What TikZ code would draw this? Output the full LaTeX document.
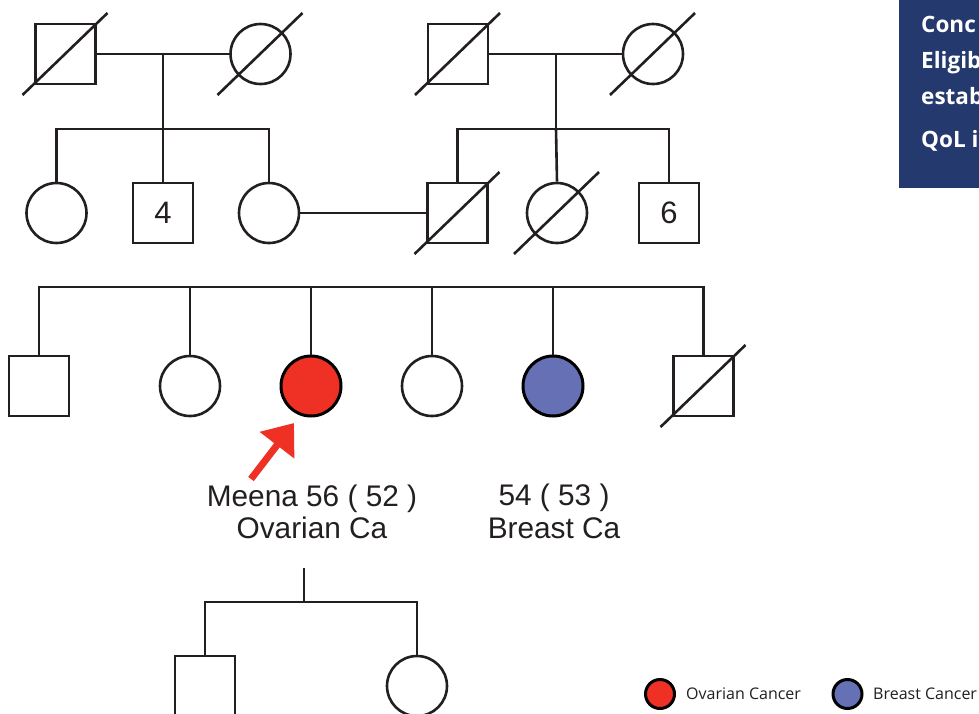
\documentclass[tikz,border=0pt]{standalone}
\usepackage{fontspec}
\setmainfont{Liberation Sans}
\newfontfamily\osans{Open Sans}
\usetikzlibrary{arrows.meta}
\definecolor{ink}{HTML}{231F20}
\definecolor{ovred}{HTML}{EE3124}
\definecolor{brblue}{HTML}{6670B4}
\definecolor{navy}{HTML}{243A6E}
\begin{document}
\begin{tikzpicture}[x=1pt,y=-1pt,
  pline/.style={draw=ink, line width=2.6pt},
  male/.style={draw=ink, line width=2.6pt, rectangle, minimum size=60pt, inner sep=0pt, fill=white, text=ink, font=\fontsize{31}{34}\selectfont},
  female/.style={draw=ink, line width=2.6pt, circle, minimum size=60pt, inner sep=0pt, fill=white},
  ovca/.style={female, fill=ovred, draw=black, line width=3pt},
  brca/.style={female, fill=brblue, draw=black, line width=3pt},
  deceased/.style={draw=ink, line width=2.6pt},
  lab/.style={text=ink, inner sep=0pt, anchor=base, font=\fontsize{29.8}{33}\selectfont},
  legsym/.style={circle, draw=black, line width=3pt, minimum size=29pt, inner sep=0pt},
  legtxt/.style={text=ink, inner sep=0pt, anchor=west, font=\osans\fontsize{16}{19}\selectfont},
  boxtxt/.style={text=white, inner sep=0pt, anchor=base west, font=\osans\bfseries\fontsize{22.5}{24}\selectfont}
]
\useasboundingbox (0,0) rectangle (979,713);
\clip (0,0) rectangle (979,713);

% info box (cropped)
\fill[navy] (899,0) rectangle (985,188);
\node[boxtxt] (b1) at (921,32) {Conc};
\node[boxtxt] (b2) at (921,68) {Eligib};
\node[boxtxt] (b3) at (921,104) {estab};
\node[boxtxt] (b4) at (921,147) {QoL i};

% Generation I
\node[male] (g1a) at (65.5,54) {};
\node[female] (g1b) at (260.5,54) {};
\node[male] (g1c) at (458,54) {};
\node[female] (g1d) at (653,54) {};

% Generation II
\node[female] (g2a) at (56.5,213) {};
\node[male] (g2b) at (163,213) {4};
\node[female] (g2c) at (269,213) {};
\node[male] (g2d) at (457.5,213) {};
\node[female] (g2e) at (557,213) {};
\node[male] (g2f) at (669,213) {6};

% Generation III
\node[male] (g3a) at (39,386) {};
\node[female] (g3b) at (190,386) {};
\node[ovca] (g3c) at (311,386) {};
\node[female] (g3d) at (432,386) {};
\node[brca] (g3e) at (553,386) {};
\node[male] (g3f) at (703.5,386) {};

% Generation IV
\node[male] (g4a) at (205,686) {};
\node[female] (g4b) at (417,686) {};

% marriages and descent, family 1
\coordinate (m1) at (163,54);
\coordinate (s1) at (163,129);
\draw[pline] (g1a.east) -- (g1b.west);
\draw[pline] (m1) -- (s1);
\draw[pline] (g2a.north) -- (g2a |- s1) -- (g2c |- s1) -- (g2c.north);
\draw[pline] (s1) -- (g2b.north);

% family 2
\coordinate (m2) at (556,54);
\coordinate (s2) at (556,129);
\draw[pline] (g1c.east) -- (g1d.west);
\draw[pline] (m2) -- (s2);
\draw[pline] (g2d.north) -- (g2d |- s2) -- (g2f |- s2) -- (g2f.north);
\draw[pline] (s2) -- (g2e.north);

% marriage gen II
\draw[pline] (g2c.east) -- (g2d.west);

% sibship gen III
\coordinate (s3) at (311,287);
\draw[pline] (g3a.north) -- (g3a |- s3) -- (g3f |- s3) -- (g3f.north);
\foreach \n in {g3b,g3c,g3d,g3e} \draw[pline] (\n |- s3) -- (\n.north);

% gen IV
\coordinate (d4) at (304,568);
\coordinate (s4) at (304,602);
\draw[pline] (d4) -- (s4);
\draw[pline] (g4a.north) -- (g4a |- s4) -- (g4b |- s4) -- (g4b.north);

% deceased slashes
\foreach \n in {g1a,g1b,g1c,g1d,g2d,g2e,g3f}
  \draw[deceased] ([shift={(-43,41)}]\n.center) -- ([shift={(42,-41)}]\n.center);

% proband arrow
\coordinate (arrtail) at (251,479);
\coordinate (arrtip) at (294,423);
\draw[ovred, line width=7pt, -{Triangle[length=28pt,width=42pt]}] (arrtail) -- (arrtip);

% labels
\node[lab] (l1) at (312,506) {Meena 56 ( 52 )};
\node[lab] (l2) at (312,538) {Ovarian Ca};
\node[lab] (l3) at (554,505) {54 ( 53 )};
\node[lab] (l4) at (554,538) {Breast Ca};

% legend
\node[legsym, fill=ovred] (k1) at (660,694) {};
\node[legtxt] (k1t) at (686,694) {Ovarian Cancer};
\node[legsym, fill=brblue] (k2) at (847.5,694) {};
\node[legtxt] (k2t) at (873,694) {Breast Cancer};
\end{tikzpicture}
\end{document}
